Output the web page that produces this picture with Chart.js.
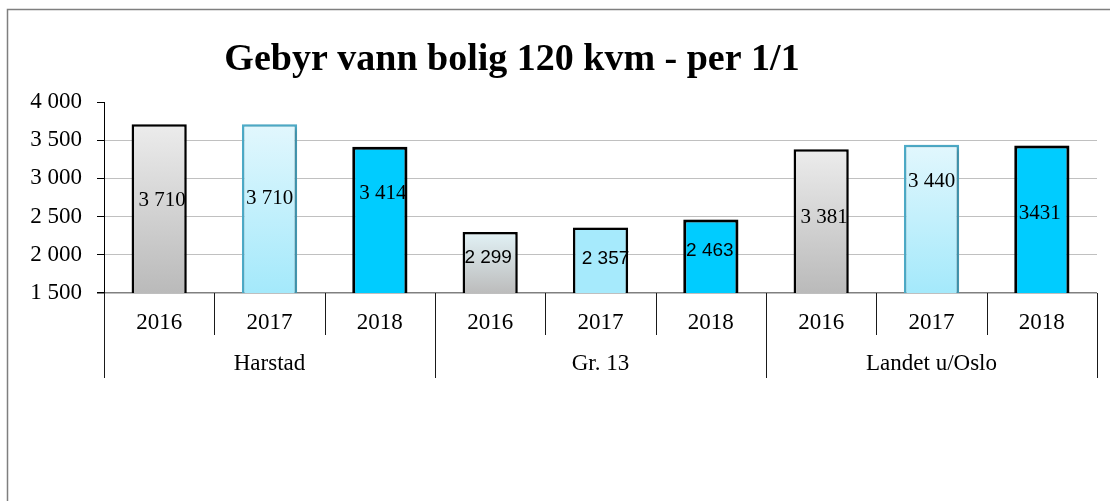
<!DOCTYPE html>
<html>
<head>
<meta charset="utf-8">
<script src="https://cdn.jsdelivr.net/npm/chart.js@4.4.1/dist/chart.umd.min.js"></script>
<style>
  html, body { margin: 0; padding: 0; background: #fff; }
  canvas { display: block; }
</style>
</head>
<body>
<canvas id="c" width="1110" height="501"></canvas>
<script>
// ---- data ----
const groups = ['Harstad', 'Gr. 13', 'Landet u/Oslo'];
const years = ['2016', '2017', '2018'];
const fees = [3710, 3710, 3414, 2299, 2357, 2463, 3381, 3440, 3431];
const feeLabels = ['3 710', '3 710', '3 414', '2 299', '2 357', '2 463', '3 381', '3 440', '3431'];
const yTicks = [1500, 2000, 2500, 3000, 3500, 4000];
const chartTitle = 'Gebyr vann bolig 120 kvm - per 1/1';

// ---- styling ----
const SERIF = '"Liberation Serif", "Times New Roman", serif';
const SANS = '"Liberation Sans", Arial, sans-serif';
const fillTop    = ['#ececec', '#e2f7fd', '#00ccff', '#e2f2f6', '#a6eafc', '#00ccff', '#ececec', '#e2f7fd', '#00ccff'];
const fillBottom = ['#bababa', '#a4e9fb', '#00ccff', '#bcbcbc', '#a6eafc', '#00ccff', '#bababa', '#a4e9fb', '#00ccff'];
const edgeColor  = ['#000000', '#4eaecb', '#000000', '#000000', '#000000', '#000000', '#000000', '#4eaecb', '#000000'];
const edgeWidth  = [2.5, 2.5, 3, 2.5, 2.5, 3, 2.5, 2.5, 3];
const labelFont  = [SERIF, SERIF, SERIF, SANS, SANS, SANS, SERIF, SERIF, SERIF];
const labelSize  = [21, 21, 21, 19, 19, 19, 21, 21, 21];
const labelDx    = [3, 0, 3, -2, 5, -1, 3, 0, -2];
const labelDy    = [-8, -10, -26, -5, -1, -5, -4, -37, -6];

const categories = groups.flatMap(g => years.map(y => g + ' ' + y));
const fmt = v => String(v).replace(/\B(?=(\d{3})+(?!\d))/g, ' ');

function barFill(ctx) {
  const i = ctx.dataIndex;
  const chart = ctx.chart;
  if (!chart.chartArea || fillTop[i] === fillBottom[i]) return fillTop[i];
  const y = chart.scales.y;
  const top = y.getPixelForValue(fees[i]);
  const base = y.getPixelForValue(yTicks[0]);
  const g = chart.ctx.createLinearGradient(0, top, 0, base);
  g.addColorStop(0, fillTop[i]);
  g.addColorStop(1, fillBottom[i]);
  return g;
}

// frame and title
const framePlugin = {
  id: 'frame',
  beforeDraw(chart) {
    const c = chart.ctx;
    c.save();
    c.fillStyle = '#fff';
    c.fillRect(0, 0, chart.width, chart.height);
    c.strokeStyle = '#7f7f7f';
    c.lineWidth = 1.5;
    c.beginPath();
    c.moveTo(7.5, chart.height + 2);
    c.lineTo(7.5, 9.5);
    c.lineTo(chart.width + 2, 9.5);
    c.stroke();
    c.fillStyle = '#000';
    c.font = 'bold 38px ' + SERIF;
    c.textAlign = 'center';
    c.textBaseline = 'alphabetic';
    c.fillText(chartTitle, 512, 70);
    c.restore();
  }
};

// soft drop shadow under the bars
const shadowPlugin = {
  id: 'barShadow',
  beforeDatasetsDraw(chart) {
    const c = chart.ctx;
    c.save();
    c.shadowColor = 'rgba(0,0,0,0.25)';
    c.shadowBlur = 5;
    c.shadowOffsetX = 2;
    c.shadowOffsetY = 1;
  },
  afterDatasetsDraw(chart) {
    chart.ctx.restore();
  }
};

// value labels inside the bars, midway between the bar top and the axis
const valuePlugin = {
  id: 'values',
  afterDatasetsDraw(chart) {
    const c = chart.ctx;
    const meta = chart.getDatasetMeta(0);
    const base = chart.scales.y.getPixelForValue(yTicks[0]);
    c.save();
    c.fillStyle = '#000';
    c.textAlign = 'center';
    c.textBaseline = 'middle';
    meta.data.forEach((bar, i) => {
      c.font = labelSize[i] + 'px ' + labelFont[i];
      c.fillText(feeLabels[i], bar.x + labelDx[i], (bar.y + base) / 2 + labelDy[i]);
    });
    c.restore();
  }
};

// two-level category axis: years, then groups
const groupAxisPlugin = {
  id: 'groupAxis',
  afterDraw(chart) {
    const c = chart.ctx;
    const area = chart.chartArea;
    const xs = chart.scales.x;
    const n = categories.length;
    const step = (area.right - area.left) / n;
    const bottom = area.bottom;
    c.save();
    c.strokeStyle = '#1a1a1a';
    c.lineWidth = 1;
    for (let i = 0; i <= n; i++) {
      const x = Math.round(area.left + i * step) + 0.5;
      const long = i % years.length === 0;
      c.beginPath();
      c.moveTo(x, bottom);
      c.lineTo(x, bottom + (long ? 85 : 42));
      c.stroke();
    }
    c.fillStyle = '#000';
    c.textAlign = 'center';
    c.textBaseline = 'middle';
    c.font = '23px ' + SERIF;
    categories.forEach((_, i) => {
      c.fillText(years[i % years.length], xs.getPixelForValue(i), bottom + 30);
    });
    groups.forEach((g, gi) => {
      const x0 = xs.getPixelForValue(gi * years.length);
      const x1 = xs.getPixelForValue(gi * years.length + years.length - 1);
      c.fillText(g, (x0 + x1) / 2, bottom + 71);
    });
    c.restore();
  }
};

new Chart(document.getElementById('c'), {
  type: 'bar',
  data: {
    labels: categories,
    datasets: [{
      data: fees,
      backgroundColor: barFill,
      borderColor: edgeColor,
      borderWidth: edgeWidth,
      borderSkipped: false,
      barPercentage: 1,
      categoryPercentage: 0.5
    }]
  },
  options: {
    responsive: false,
    animation: false,
    devicePixelRatio: 1,
    layout: { padding: { left: 0, top: 102, right: 13, bottom: 208 } },
    plugins: {
      legend: { display: false },
      tooltip: { enabled: false },
      title: { display: false }
    },
    scales: {
      x: {
        display: false,
        offset: true
      },
      y: {
        min: yTicks[0],
        max: yTicks[yTicks.length - 1],
        afterBuildTicks(scale) {
          scale.ticks = yTicks.map(v => ({ value: v }));
        },
        afterFit(scale) {
          scale.width = 104;
        },
        border: { display: true, color: '#000', width: 1 },
        grid: {
          drawTicks: true,
          tickLength: 7,
          tickColor: '#000',
          lineWidth: ctx => (ctx.tick && ctx.tick.value === yTicks[0] ? 1.5 : 1),
          color: ctx => {
            if (!ctx.tick) return '#c0c0c0';
            if (ctx.tick.value === yTicks[yTicks.length - 1]) return 'rgba(0,0,0,0)';
            if (ctx.tick.value === yTicks[0]) return '#808080';
            return '#c0c0c0';
          }
        },
        ticks: {
          padding: 15,
          color: '#000',
          font: { family: SERIF, size: 23 },
          callback: v => fmt(v)
        }
      }
    }
  },
  plugins: [framePlugin, shadowPlugin, valuePlugin, groupAxisPlugin]
});
</script>
</body>
</html>
